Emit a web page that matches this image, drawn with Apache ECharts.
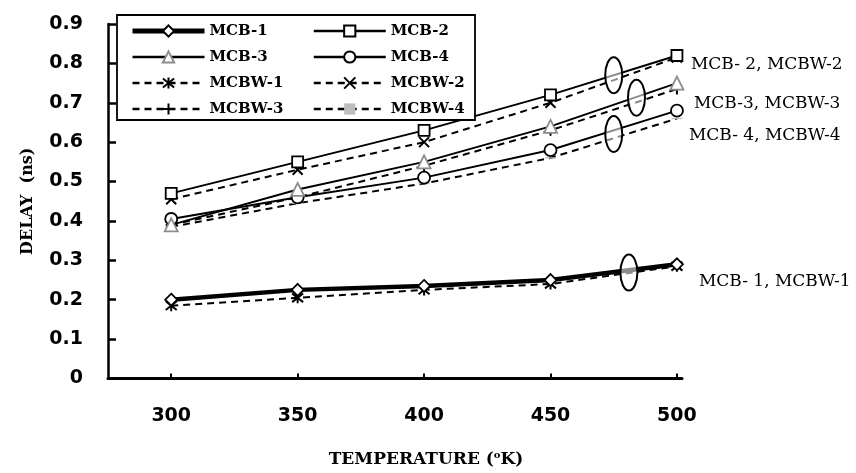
<!DOCTYPE html>
<html>
<head>
<meta charset="utf-8">
<script src="https://cdn.jsdelivr.net/npm/echarts@6/dist/echarts.min.js"></script>
<style>
  html, body { margin: 0; padding: 0; background: #fff; }
  #chart { width: 856px; height: 473px; }
</style>
</head>
<body>
<div id="chart"></div>
<script>
// Temperatures (K) and delay values (ns) for each buffer variant
const temperatures = [300, 350, 400, 450, 500];
const xTicks = [300, 350, 400, 450, 500];

const mcb1  = [0.200, 0.225, 0.235, 0.250, 0.290];
const mcb2  = [0.470, 0.550, 0.630, 0.720, 0.820];
const mcb3  = [0.390, 0.480, 0.550, 0.640, 0.750];
const mcb4  = [0.405, 0.460, 0.510, 0.580, 0.680];
const mcbw1 = [0.185, 0.205, 0.225, 0.240, 0.285];
const mcbw2 = [0.455, 0.530, 0.600, 0.700, 0.815];
const mcbw3 = [0.390, 0.460, 0.540, 0.630, 0.735];
const mcbw4 = [0.385, 0.445, 0.495, 0.560, 0.660];

const seriesNames = ['MCB-1', 'MCB-2', 'MCB-3', 'MCB-4', 'MCBW-1', 'MCBW-2', 'MCBW-3', 'MCBW-4'];
const groupLabels = ['MCB- 1, MCBW-1', 'MCB- 2, MCBW-2', 'MCB-3, MCBW-3', 'MCB- 4, MCBW-4'];

// Group markers: [temperature, delay] where each pair of curves is circled
const groupRings = [[481, 0.269], [475, 0.770], [484, 0.713], [475, 0.621]];

const pts = arr => temperatures.map((t, i) => [t, arr[i]]);

const SYM_X = 'path://M0,0L10,10M10,0L0,10';
const SYM_PLUS = 'path://M5,0L5,10M0,5L10,5';
const SYM_STAR = 'path://M1,1L9,9M9,1L1,9M5,0L5,10';
const SYM_BAR = 'path://M0,0H12V4H0Z';

const serifFont = 'DejaVu Serif';
const sansFont = 'DejaVu Sans';

function solid(name, data, symbol, size, width, border, endText, endOffset) {
  const s = {
    name, type: 'line', data: pts(data),
    symbol, symbolSize: size, showAllSymbol: true,
    lineStyle: { color: '#000', width, type: 'solid' },
    itemStyle: { color: '#fff', borderColor: border, borderWidth: 1.8 },
    emphasis: { disabled: true },
    z: 3
  };
  if (endText) {
    s.endLabel = {
      show: true, formatter: endText, distance: 0, offset: endOffset,
      color: '#000', fontFamily: serifFont, fontSize: 17, align: 'left'
    };
  }
  return s;
}

function dashed(name, data, symbol, size, item, keepAspect) {
  return {
    name, type: 'line', data: pts(data),
    symbol, symbolSize: size, showAllSymbol: true,
    symbolKeepAspect: !!keepAspect,
    lineStyle: { color: '#000', width: 2, type: [7, 5] },
    itemStyle: item,
    emphasis: { disabled: true },
    z: 2
  };
}

// Legend entries: the MCB-1 sample line is drawn heavier, like its curve
const legendData = seriesNames.map(n => ({
  name: n,
  lineStyle: { width: n === 'MCB-1' ? 5 : 2.5 }
}));

const chart = echarts.init(document.getElementById('chart'), null, { renderer: 'canvas' });

const option = {
  animation: false,
  backgroundColor: '#fff',
  grid: { left: 108, right: 174, top: 24, bottom: 84, containLabel: false },
  xAxis: {
    type: 'value', min: 275, max: 502,
    name: 'TEMPERATURE ({s|o}K)',
    nameLocation: 'middle', nameGap: 72,
    nameTextStyle: {
      color: '#000', fontFamily: serifFont, fontWeight: 'bold', fontSize: 17,
      padding: [0, 0, 0, 62],
      rich: { s: { fontSize: 10, fontFamily: serifFont, fontWeight: 'bold', verticalAlign: 'top', padding: [0, 0, 8, 0] } }
    },
    axisLine: { show: true, lineStyle: { color: '#000', width: 3 } },
    axisTick: { show: true, inside: true, length: 5, lineStyle: { color: '#000', width: 2 }, customValues: xTicks },
    axisLabel: {
      customValues: xTicks, margin: 28, color: '#000',
      fontFamily: sansFont, fontWeight: 'bold', fontSize: 19
    },
    splitLine: { show: false }
  },
  yAxis: {
    type: 'value', min: 0, max: 0.9, interval: 0.1,
    name: 'DELAY  (ns)', nameLocation: 'middle', nameGap: 72, nameRotate: 90,
    nameTextStyle: {
      color: '#000', fontFamily: serifFont, fontWeight: 'bold', fontSize: 16
    },
    axisLine: { show: true, lineStyle: { color: '#000', width: 2.5 } },
    axisTick: { show: true, inside: true, length: 8, lineStyle: { color: '#000', width: 2.5 } },
    axisLabel: {
      margin: 25, color: '#000', fontFamily: sansFont, fontWeight: 'bold', fontSize: 19
    },
    splitLine: { show: false }
  },
  legend: {
    data: legendData,
    left: 130, top: 23, width: 360,
    orient: 'horizontal', itemGap: 10, padding: 0,
    itemWidth: 72, itemHeight: 14,
    selectedMode: false,
    textStyle: {
      color: '#000', fontFamily: serifFont, fontWeight: 'bold', fontSize: 15,
      width: 93, lineHeight: 16
    },
    z: 6
  },
  graphic: [{
    type: 'rect', z: 5,
    shape: { x: 117, y: 15, width: 358, height: 105 },
    style: { fill: '#fff', stroke: '#000', lineWidth: 1.8 }
  }],
  series: [
    dashed('MCBW-4', mcbw4, SYM_BAR, [11, 4], { color: '#bdbdbd', borderColor: '#bdbdbd', borderWidth: 0 }, true),
    dashed('MCBW-3', mcbw3, SYM_PLUS, 11, { color: '#fff', borderColor: '#000', borderWidth: 2 }),
    dashed('MCBW-2', mcbw2, SYM_X, 10, { color: '#fff', borderColor: '#000', borderWidth: 2 }),
    dashed('MCBW-1', mcbw1, SYM_STAR, 11, { color: '#fff', borderColor: '#000', borderWidth: 2 }),
    solid('MCB-4', mcb4, 'circle', 12, 2, '#000', groupLabels[3], [12, 25]),
    solid('MCB-3', mcb3, 'triangle', 13, 2, '#8c8c8c', groupLabels[2], [17, 20]),
    solid('MCB-2', mcb2, 'rect', 11, 2, '#000', groupLabels[1], [14, 9]),
    solid('MCB-1', mcb1, 'diamond', 12, 4.5, '#000', groupLabels[0], [22, 17])
  ]
};

chart.setOption(option);

// Rings that bracket each pair of related curves
const rings = groupRings.map(([t, d]) => {
  const [px, py] = chart.convertToPixel({ gridIndex: 0 }, [t, d]);
  return {
    type: 'ellipse', z: 10,
    shape: { cx: px, cy: py, rx: 8.5, ry: 18 },
    style: { fill: 'rgba(255,255,255,0.55)', stroke: '#000', lineWidth: 2 }
  };
});
chart.setOption({ graphic: option.graphic.concat(rings) });
</script>
</body>
</html>
